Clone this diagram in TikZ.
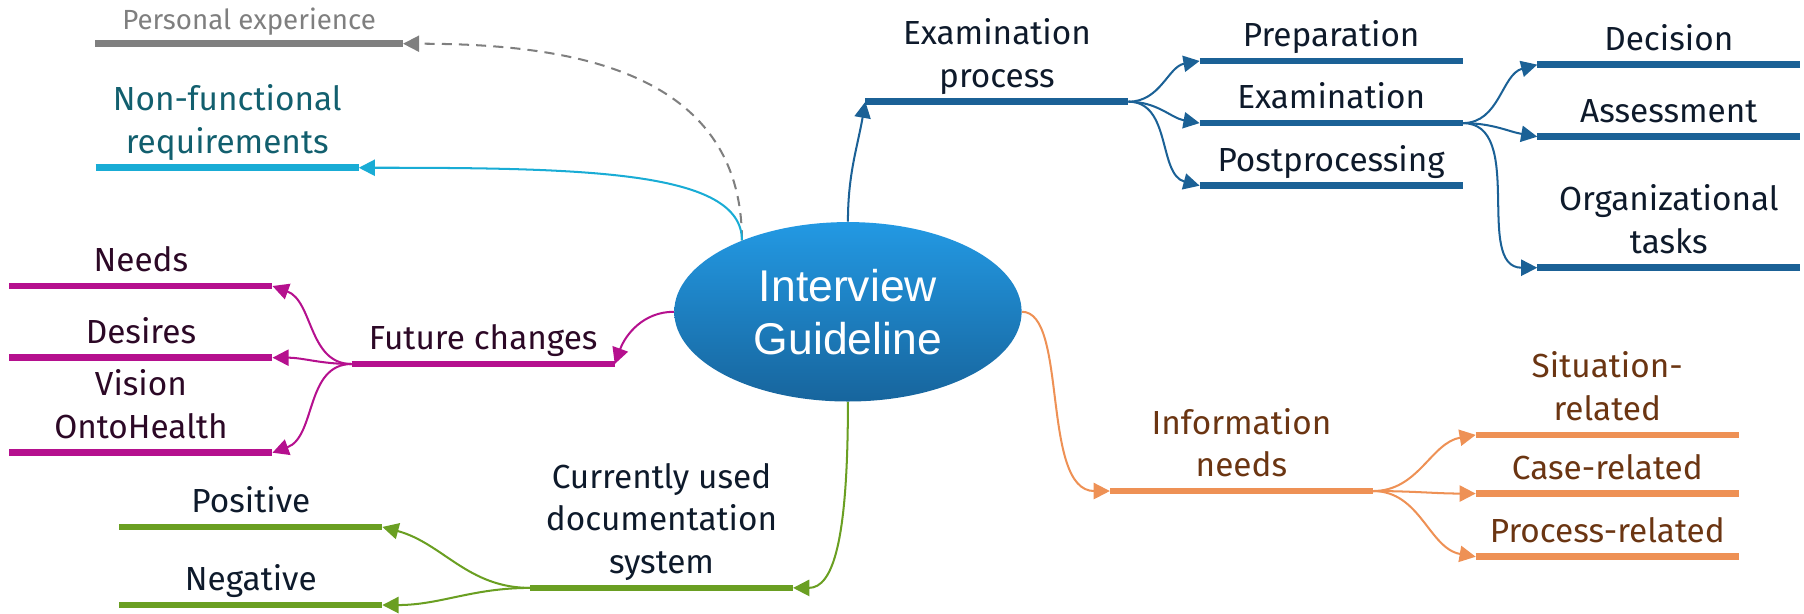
\documentclass[tikz,border=0pt]{standalone}
\usepackage{fontspec}
\setmainfont{Fira Sans}
\newfontfamily\corefont{Liberation Sans}
\usetikzlibrary{arrows.meta,shapes.geometric}
\definecolor{coretop}{HTML}{2399E3}
\definecolor{corebottom}{HTML}{17659D}
\definecolor{examblue}{HTML}{1B6196}
\definecolor{reqcyan}{HTML}{19ACD5}
\definecolor{persgray}{HTML}{7F7F7F}
\definecolor{futmagenta}{HTML}{B5108E}
\definecolor{docgreen}{HTML}{6A9F22}
\definecolor{infoorange}{HTML}{EE9155}
\definecolor{navytext}{HTML}{0E1A2B}
\definecolor{tealtext}{HTML}{125F6E}
\definecolor{purpletext}{HTML}{2C0826}
\definecolor{browntext}{HTML}{6B3512}

\begin{document}
\begin{tikzpicture}[x=0.02cm, y=-0.02cm,
  topic/.style={anchor=south, minimum width=4.56cm, inner ysep=7pt, text depth=0pt,
                align=center, font=\fontsize{16.5}{21}\selectfont},
  bar/.style={line width=3.3pt},
  link/.style={-{Triangle[length=8pt,width=8pt]}, line width=1pt},
  core/.style={ellipse, minimum width=6.04cm, minimum height=3.12cm, inner sep=0pt,
               top color=coretop, bottom color=corebottom, text=white, align=center,
               font=\corefont\fontsize{22}{26.2}\selectfont},
]
  \useasboundingbox (0,0) rectangle (1568,533);

  \node[core] (gl) at (737,271) {Interview\\Guideline};

  % examination process
  \node[topic, text=navytext] (exproc) at (866.5,88.4) {Examination\\process};
  \node[topic, text=navytext] (prep) at (1157,53) {Preparation};
  \node[topic, text=navytext] (exam) at (1157,107) {Examination};
  \node[topic, text=navytext] (post) at (1157,161.4) {Postprocessing};
  \node[topic, text=navytext] (deci) at (1450.5,56.2) {Decision};
  \node[topic, text=navytext] (asse) at (1450.5,118.8) {Assessment};
  \node[topic, text=navytext] (orga) at (1450.5,232.7) {Organizational\\tasks};
  \foreach \n in {exproc,prep,exam,post,deci,asse,orga}
    \draw[bar, examblue] (\n.south west) -- (\n.south east);

  \draw[link, examblue] (gl.north) to[out=90,in=-100] (exproc.south west);
  \draw[link, examblue] (exproc.south east) to[out=0,in=190] (prep.south west);
  \draw[link, examblue] (exproc.south east) to[out=0,in=170] (exam.south west);
  \draw[link, examblue] (exproc.south east) to[out=0,in=165] (post.south west);
  \draw[link, examblue] (exam.south east) to[out=0,in=195] (deci.south west);
  \draw[link, examblue] (exam.south east) to[out=0,in=170] (asse.south west);
  \draw[link, examblue] (exam.south east) to[out=0,in=180] (orga.south west);

  % personal experience, requirements
  \node[topic, text=persgray, minimum width=5.34cm, font=\fontsize{13.7}{17}\selectfont]
    (pers) at (216.5,38) {Personal experience};
  \node[topic, text=tealtext] (nonf) at (197.5,145.8) {Non-functional\\requirements};
  \draw[bar, persgray] (pers.south west) -- (pers.south east);
  \draw[bar, reqcyan] (nonf.south west) -- (nonf.south east);

  \draw[link, persgray, dash pattern=on 5pt off 3.5pt] (gl.146)
    .. controls +(0,-150) and +(140,0) .. (pers.south east);
  \draw[link, reqcyan] (gl.146) .. controls +(0,-60) and +(200,0) .. (nonf.south east);

  % future changes
  \node[topic, text=purpletext] (fut) at (420,316.4) {Future changes};
  \node[topic, text=purpletext] (need) at (122.5,248.6) {Needs};
  \node[topic, text=purpletext] (desi) at (122.5,310.9) {Desires};
  \node[topic, text=purpletext] (visi) at (122.5,393.5) {Vision\\OntoHealth};
  \foreach \n in {fut,need,desi,visi}
    \draw[bar, futmagenta] (\n.south west) -- (\n.south east);

  \draw[link, futmagenta] (gl.west) to[out=180,in=70] (fut.south east);
  \draw[link, futmagenta] (fut.south west) to[out=180,in=-20] (need.south east);
  \draw[link, futmagenta] (fut.south west) to[out=180,in=0] (desi.south east);
  \draw[link, futmagenta] (fut.south west) to[out=180,in=20] (visi.south east);

  % documentation system
  \node[topic, text=navytext] (docu) at (575,511) {Currently used\\documentation\\system};
  \node[topic, text=navytext] (posi) at (218,458) {Positive};
  \node[topic, text=navytext] (nega) at (218,525.9) {Negative};
  \foreach \n in {docu,posi,nega}
    \draw[bar, docgreen] (\n.south west) -- (\n.south east);

  \draw[link, docgreen] (gl.south) .. controls +(0,120) and +(35,0) .. (docu.south east);
  \draw[link, docgreen] (docu.south west) to[out=180,in=-15] (posi.south east);
  \draw[link, docgreen] (docu.south west) to[out=180,in=0] (nega.south east);

  % information needs
  \node[topic, text=browntext] (info) at (1079,426.8) {Information\\needs};
  \node[topic, text=browntext] (situ) at (1397,378) {Situation-\\related};
  \node[topic, text=browntext] (case) at (1397,429) {Case-related};
  \node[topic, text=browntext] (proc) at (1397,483.9) {Process-related};
  \foreach \n in {info,situ,case,proc}
    \draw[bar, infoorange] (\n.south west) -- (\n.south east);

  \draw[link, infoorange] (gl.east) .. controls +(40,0) and +(-60,0) .. (info.south west);
  \draw[link, infoorange] (info.south east) to[out=0,in=190] (situ.south west);
  \draw[link, infoorange] (info.south east) to[out=0,in=180] (case.south west);
  \draw[link, infoorange] (info.south east) to[out=0,in=170] (proc.south west);
\end{tikzpicture}
\end{document}
